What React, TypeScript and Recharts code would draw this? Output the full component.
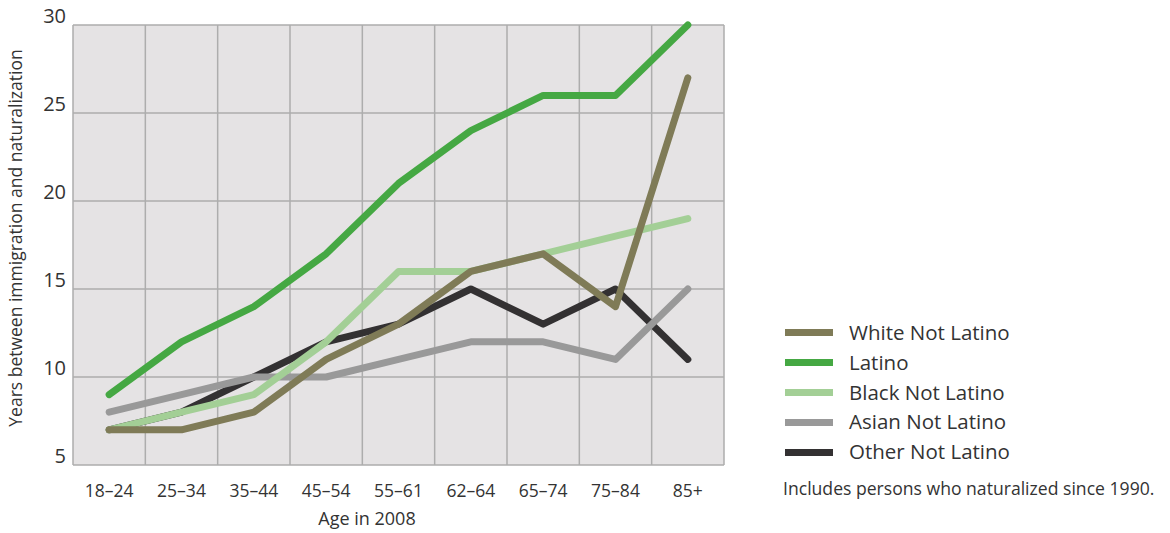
import React from 'react';
import { LineChart, Line, XAxis, YAxis, CartesianGrid, ReferenceLine } from 'recharts';

const categories = ['18–24', '25–34', '35–44', '45–54', '55–61', '62–64', '65–74', '75–84', '85+'];
const whiteNotLatino = [7, 7, 8, 11, 13, 16, 17, 14, 27];
const latino = [9, 12, 14, 17, 21, 24, 26, 26, 30];
const blackNotLatino = [7, 8, 9, 12, 16, 16, 17, 18, 19];
const asianNotLatino = [8, 9, 10, 10, 11, 12, 12, 11, 15];
const otherNotLatino = [7, 8, 10, 12, 13, 15, 13, 15, 11];
const yTicks = [5, 10, 15, 20, 25, 30];

const series = [
  { key: 'white', name: 'White Not Latino', color: '#7f7b57', values: whiteNotLatino },
  { key: 'latino', name: 'Latino', color: '#45a843', values: latino },
  { key: 'black', name: 'Black Not Latino', color: '#a3cf96', values: blackNotLatino },
  { key: 'asian', name: 'Asian Not Latino', color: '#999999', values: asianNotLatino },
  { key: 'other', name: 'Other Not Latino', color: '#333132', values: otherNotLatino },
];
const drawOrder = ['other', 'asian', 'black', 'latino', 'white'];

const data = categories.map((c, i) => {
  const row: Record<string, number | string> = { i, cat: c };
  series.forEach((s) => { row[s.key] = s.values[i]; });
  return row;
});
const xTicks = categories.map((_, i) => i);
const boundaries = categories.map((_, i) => i - 0.5).concat([categories.length - 0.5]);

const FONT = '"Open Sans", "Noto Sans", sans-serif';
const GRID = '#adadad';
const TEXT = '#333';

const XTick = (props: any) => {
  const { x, y, payload } = props;
  return (
    <text x={x} y={y + 19} textAnchor="middle" dominantBaseline="middle" fill={TEXT} fontSize={17.5} fontFamily={FONT}>
      {categories[payload.value]}
    </text>
  );
};
const YTick = (props: any) => {
  const { x, y, payload } = props;
  return (
    <text x={x + 1} y={y - 7} textAnchor="end" dominantBaseline="middle" fill={TEXT} fontSize={20} fontFamily={FONT}>
      {payload.value}
    </text>
  );
};

export default function App() {
  return (
    <div style={{ position: 'absolute', left: 0, top: 0, width: 1170, height: 533, background: '#fff', fontFamily: FONT }}>
      <LineChart width={760} height={533} data={data} margin={{ top: 25, left: 13, right: 36, bottom: 38 }}>
        <CartesianGrid fill="#e5e3e4" stroke={GRID} strokeWidth={1.5} vertical={false} />
        {boundaries.map((b) => (
          <ReferenceLine key={b} x={b} stroke={GRID} strokeWidth={1.5} ifOverflow="visible" />
        ))}
        <XAxis
          dataKey="i"
          type="number"
          domain={[-0.5, 8.5]}
          ticks={xTicks}
          interval={0}
          axisLine={false}
          tickLine={false}
          height={30}
          tick={<XTick />}
          label={{
            content: () => (
              <text x={367} y={520} textAnchor="middle" dominantBaseline="middle" fill={TEXT} fontSize={18} fontFamily={FONT}>
                Age in 2008
              </text>
            ),
          }}
        />
        <YAxis
          type="number"
          domain={[5, 30]}
          ticks={yTicks}
          interval={0}
          axisLine={false}
          tickLine={false}
          width={60}
          tick={<YTick />}
          label={{
            content: () => (
              <text x={17} y={238} transform="rotate(-90 17 238)" textAnchor="middle" dominantBaseline="middle" fill={TEXT} fontSize={17.5} fontFamily={FONT}>
                Years between immigration and naturalization
              </text>
            ),
          }}
        />
        {drawOrder.map((k) => {
          const s = series.find((x) => x.key === k)!;
          return (
            <Line
              key={k}
              dataKey={k}
              name={s.name}
              stroke={s.color}
              strokeWidth={7}
              strokeLinecap="round"
              strokeLinejoin="round"
              dot={false}
              activeDot={false}
              isAnimationActive={false}
            />
          );
        })}
      </LineChart>
      <div style={{ position: 'absolute', left: 785, top: 318 }}>
        {series.map((s) => (
          <div key={s.key} style={{ display: 'flex', alignItems: 'center', height: 29.8 }}>
            <div style={{ width: 48, height: 7, background: s.color }} />
            <div style={{ marginLeft: 16, fontSize: 20.5, color: TEXT, lineHeight: '29.8px', whiteSpace: 'nowrap' }}>{s.name}</div>
          </div>
        ))}
      </div>
      <div style={{ position: 'absolute', left: 783, top: 477, fontSize: 17.6, color: TEXT, whiteSpace: 'nowrap', lineHeight: '22px' }}>
        Includes persons who naturalized since 1990.
      </div>
    </div>
  );
}
